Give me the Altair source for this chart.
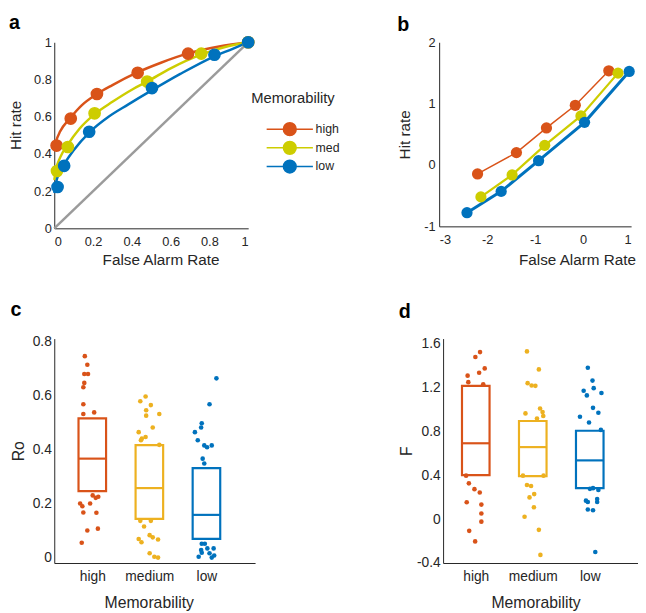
import altair as alt
import pandas as pd

FONT = "Liberation Sans"
INK = "#262626"

# ---------------- Panel a: ROC ----------------
roc_levels = ["high", "med", "low"]
roc_colors = ["#D95319", "#CDCD00", "#0072BD"]

a_high_fa = [0.012, 0.085, 0.22, 0.43, 0.69, 1.0]
a_high_hit = [0.445, 0.59, 0.722, 0.836, 0.939, 1.0]
a_med_fa = [0.014, 0.07, 0.208, 0.479, 0.758, 1.0]
a_med_hit = [0.308, 0.437, 0.618, 0.789, 0.939, 1.0]
a_low_fa = [0.017, 0.051, 0.18, 0.504, 0.826, 1.0]
a_low_hit = [0.222, 0.336, 0.519, 0.754, 0.933, 1.0]

# fitted curves
a_high_fit_fa = [0.0, 0.01, 0.03, 0.08, 0.14, 0.22, 0.3, 0.42, 0.55, 0.69, 0.85, 1.0]
a_high_fit_hit = [0.43, 0.47, 0.52, 0.59, 0.66, 0.722, 0.77, 0.834, 0.89, 0.94, 0.977, 1.0]
a_med_fit_fa = [0.0, 0.01, 0.03, 0.07, 0.13, 0.21, 0.3, 0.4, 0.48, 0.6, 0.76, 0.9, 1.0]
a_med_fit_hit = [0.26, 0.32, 0.38, 0.45, 0.535, 0.615, 0.68, 0.745, 0.789, 0.86, 0.935, 0.98, 1.0]
a_low_fit_fa = [0.0, 0.01, 0.03, 0.06, 0.1, 0.18, 0.28, 0.38, 0.5, 0.65, 0.82, 0.92, 1.0]
a_low_fit_hit = [0.19, 0.25, 0.305, 0.36, 0.42, 0.515, 0.6, 0.665, 0.74, 0.83, 0.922, 0.965, 1.0]

chance_x = [0.0, 1.0]
chance_y = [0.0, 1.0]
a_ticks = [0, 0.2, 0.4, 0.6, 0.8, 1]

# ---------------- Panel b: z-ROC ----------------
b_high_x = [-2.2, -1.39, -0.764, -0.163, 0.535]
b_high_y = [-0.146, 0.202, 0.604, 0.973, 1.535]
b_med_x = [-2.13, -1.48, -0.80, -0.046, 0.727]
b_med_y = [-0.52, -0.162, 0.32, 0.80, 1.497]
b_low_x = [-2.42, -1.708, -0.928, 0.03, 0.96]
b_low_y = [-0.777, -0.43, 0.07, 0.695, 1.524]
b_xticks = [-3, -2, -1, 0, 1]
b_yticks = [-1, 0, 1, 2]

# ---------------- Panels c, d ----------------
cd_levels = ["high", "medium", "low"]
cd_colors = ["#D95319", "#EDB120", "#0072BD"]

c_high_dx = [-0.131, -0.087, -0.14, -0.075, -0.14, -0.157, -0.157, -0.157, 0.033, 0.007,
             0.06, 0.105, -0.213, -0.174, -0.038, -0.157, 0.072, -0.087, 0.098, -0.185]
c_high_y = [0.745, 0.713, 0.679, 0.679, 0.646, 0.630, 0.567, 0.531, 0.537, 0.230,
            0.221, 0.225, 0.2, 0.19, 0.2, 0.167, 0.166, 0.1, 0.107, 0.055]
c_med_dx = [-0.066, -0.159, 0.026, -0.056, 0.174, -0.056, 0.059, -0.187, -0.066, -0.131,
            -0.148, 0.174, -0.159, 0.026, -0.093, -0.187, -0.138, 0.005, 0.059, 0.152,
            0.005, 0.087, 0.152]
c_med_y = [0.596, 0.578, 0.564, 0.545, 0.531, 0.525, 0.481, 0.464, 0.446, 0.44,
           0.434, 0.417, 0.136, 0.136, 0.115, 0.069, 0.057, 0.083, 0.075, 0.067,
           0.016, 0.003, 0.0]
c_low_dx = [0.175, 0.054, -0.082, -0.093, -0.202, -0.152, -0.038, 0.011, 0.093, -0.066,
            -0.038, -0.082, -0.028, -0.093, 0.016, 0.126, -0.082, 0.054, 0.136, -0.136, 0.093]
c_low_y = [0.663, 0.567, 0.497, 0.481, 0.464, 0.434, 0.415, 0.408, 0.415, 0.366,
           0.348, 0.051, 0.051, 0.028, 0.034, 0.034, 0.018, 0.016, 0.008, 0.003, 0.0]
c_q1 = [0.246, 0.143, 0.069]
c_med = [0.366, 0.257, 0.158]
c_q3 = [0.515, 0.416, 0.331]
c_yticks = [0, 0.2, 0.4, 0.6, 0.8]

d_high_dx = [0.075, -0.007, 0.157, 0.059, -0.143, -0.131, 0.131, -0.170, -0.121, -0.023,
             0.070, -0.159, 0.098, 0.098, 0.098, -0.115, -0.011]
d_high_y = [1.522, 1.477, 1.373, 1.334, 1.307, 1.248, 1.229, 0.396, 0.326, 0.273,
            0.243, 0.153, 0.132, 0.051, -0.023, -0.107, -0.203]
d_med_dx = [-0.102, 0.107, -0.09, -0.02, 0.046, 0.128, -0.128, 0.172, 0.184, 0.074,
            -0.172, 0.189, -0.102, -0.03, 0.025, -0.057, 0.02, -0.144, 0.107, 0.134]
d_med_y = [1.528, 1.364, 1.239, 1.217, 1.214, 1.008, 0.963, 0.975, 0.939, 0.916,
           0.396, 0.396, 0.311, 0.302, 0.228, 0.198, 0.108, 0.021, -0.098, -0.326]
d_low_dx = [-0.034, 0.048, -0.107, 0.069, -0.051, 0.205, 0.057, 0.151, -0.172, -0.013,
            0.195, 0.003, 0.057, 0.151, -0.067, -0.034, 0.13, 0.13, -0.034, 0.057, 0.097]
d_low_y = [1.379, 1.262, 1.169, 1.193, 1.127, 1.149, 1.014, 0.969, 0.933, 0.880,
           0.813, 0.276, 0.282, 0.266, 0.168, 0.156, 0.183, 0.156, 0.087, 0.081, -0.30]
d_q1 = [0.401, 0.392, 0.282]
d_med = [0.691, 0.656, 0.535]
d_q3 = [1.214, 0.894, 0.805]
d_yticks = [-0.4, 0, 0.4, 0.8, 1.2, 1.6]


def long_df(levels, xs_list, ys_list):
    rows = []
    for lvl, xs, ys in zip(levels, xs_list, ys_list):
        for i, (x, y) in enumerate(zip(xs, ys)):
            rows.append({"level": lvl, "x": x, "y": y, "order": i})
    return pd.DataFrame(rows)


LABEL_EXPR_NUM = "'' + datum.value"


def panel_title(letter, off):
    return alt.TitleParams(letter, anchor="start", frame="bounds", fontSize=20,
                           fontWeight="bold", baseline="alphabetic", offset=off,
                           color="black", font=FONT)


# legend glyph: a short line with a filled circle (cubic-bezier circle, tight bounds)
R, K, L = 1.3, 0.718, 4.7
leg_path = (f"M{-L},0L{L},0"
            f"M{R},0C{R},{K},{K},{R},0,{R}C{-K},{R},{-R},{K},{-R},0"
            f"C{-R},{-K},{-K},{-R},0,{-R}C{K},{-R},{R},{-K},{R},0Z")

# ---------- Panel a chart ----------
a_pts = long_df(roc_levels, [a_high_fa, a_med_fa, a_low_fa], [a_high_hit, a_med_hit, a_low_hit])
a_fit = long_df(roc_levels, [a_high_fit_fa, a_med_fit_fa, a_low_fit_fa],
                [a_high_fit_hit, a_med_fit_hit, a_low_fit_hit])
a_diag = pd.DataFrame({"x": chance_x, "y": chance_y})

ax_a_x = alt.Axis(values=a_ticks, labelExpr=LABEL_EXPR_NUM, title="False Alarm Rate",
                  labelFontSize=13, titleFontSize=15.5, labelPadding=7, titlePadding=5, titleX=108)
ax_a_y = alt.Axis(values=a_ticks, labelExpr=LABEL_EXPR_NUM, title="Hit rate",
                  labelFontSize=13, titleFontSize=15.5, labelPadding=3, titlePadding=10, titleY=84)
xa = alt.X("x:Q", scale=alt.Scale(domain=[0, 1], nice=False), axis=ax_a_x)
ya = alt.Y("y:Q", scale=alt.Scale(domain=[0, 1], nice=False), axis=ax_a_y)

scale_a = alt.Scale(domain=roc_levels, range=roc_colors)
legend_a = alt.Legend(orient="none", legendX=200, legendY=50, title="Memorability",
                      titleFontSize=15, titleFontWeight="normal", titleColor=INK, titleFont=FONT,
                      labelFontSize=12.5, labelColor=INK, labelFont=FONT,
                      symbolType=leg_path, symbolSize=100, symbolStrokeWidth=1.5,
                      symbolOffset=33, labelOffset=20, rowPadding=-1, titlePadding=17)

diag = alt.Chart(a_diag).mark_line(color="#9B9B9B", strokeWidth=2.5).encode(x=xa, y=ya)
fit = alt.Chart(a_fit).mark_line(strokeWidth=2.5, interpolate="monotone").encode(
    x=xa, y=ya, order="order:Q",
    stroke=alt.Stroke("level:N", scale=scale_a, legend=legend_a))
pts_a = alt.Chart(a_pts).mark_circle(size=130, opacity=1, strokeWidth=1.5).encode(
    x=xa, y=ya,
    fill=alt.Fill("level:N", scale=scale_a, legend=legend_a),
    stroke=alt.Stroke("level:N", scale=scale_a, legend=legend_a))
panel_a = alt.layer(diag, fit, pts_a).properties(
    width=197, height=189, title=panel_title("a", -15))

# ---------- Panel b chart ----------
b_df = long_df(roc_levels, [b_high_x, b_med_x, b_low_x], [b_high_y, b_med_y, b_low_y])
ax_b_x = alt.Axis(values=b_xticks, labelExpr=LABEL_EXPR_NUM, title="False Alarm Rate",
                  labelFontSize=13, titleFontSize=15.5, labelPadding=7, titlePadding=7, titleX=140)
ax_b_y = alt.Axis(values=b_yticks, labelExpr=LABEL_EXPR_NUM, title="Hit rate",
                  labelFontSize=13, titleFontSize=15.5, labelPadding=4, titlePadding=12)
xb = alt.X("x:Q", scale=alt.Scale(domain=[-3, 1], nice=False), axis=ax_b_x)
yb = alt.Y("y:Q", scale=alt.Scale(domain=[-1, 2], nice=False), axis=ax_b_y)
col_b = alt.Color("level:N", scale=alt.Scale(domain=roc_levels, range=roc_colors), legend=None)
lines_b = alt.Chart(b_df).mark_line().encode(
    x=xb, y=yb, order="order:Q", color=col_b,
    strokeWidth=alt.StrokeWidth("level:N", scale=alt.Scale(domain=roc_levels, range=[1.5, 3, 3]),
                                legend=None))
pts_b = alt.Chart(b_df).mark_circle(size=130, opacity=1).encode(x=xb, y=yb, color=col_b)
panel_b = alt.layer(lines_b, pts_b).properties(
    width=195, height=187, title=panel_title("b", -15))


# ---------- Panels c, d ----------
def box_panel(letter, ytitle, dx_lists, y_lists, q1, med, q3, yticks, ydomain, xdomain,
              w, h, toff, ytitle_pad, xtitle_x):
    pts = []
    for k, (lvl, dxs, ys) in enumerate(zip(cd_levels, dx_lists, y_lists)):
        for dx, y in zip(dxs, ys):
            pts.append({"level": lvl, "x": k + 1 + dx, "y": y})
    pts = pd.DataFrame(pts)
    box = pd.DataFrame({"level": cd_levels, "x": [1, 2, 3], "q1": q1, "med": med, "q3": q3})
    xax = alt.Axis(values=[1, 2, 3],
                   labelExpr="['" + "','".join(cd_levels) + "'][datum.value - 1]",
                   title="Memorability", labelFontSize=14, titleFontSize=16,
                   labelPadding=7, titlePadding=11, titleX=xtitle_x)
    yax = alt.Axis(values=yticks, labelExpr=LABEL_EXPR_NUM, title=ytitle,
                   labelFontSize=14, titleFontSize=16, labelPadding=3, titlePadding=ytitle_pad)
    x = alt.X("x:Q", scale=alt.Scale(domain=xdomain, nice=False), axis=xax)
    col = alt.Color("level:N", scale=alt.Scale(domain=cd_levels, range=cd_colors), legend=None)
    yscale = alt.Scale(domain=ydomain, nice=False)
    dots = alt.Chart(pts).mark_circle(size=22, opacity=1).encode(
        x=x, y=alt.Y("y:Q", scale=yscale, axis=yax), color=col)
    boxes = alt.Chart(box).mark_bar(filled=False, width=28, strokeWidth=2.2, opacity=1).encode(
        x=x, y=alt.Y("q1:Q", scale=yscale, axis=yax), y2="q3:Q", color=col)
    meds = alt.Chart(box).mark_tick(orient="horizontal", size=28, thickness=2.2,
                                    opacity=1).encode(
        x=x, y=alt.Y("med:Q", scale=yscale, axis=yax), color=col)
    return alt.layer(dots, boxes, meds).properties(
        width=w, height=h, title=panel_title(letter, toff))


panel_c = box_panel("c", "Ro", [c_high_dx, c_med_dx, c_low_dx], [c_high_y, c_med_y, c_low_y],
                    c_q1, c_med, c_q3, c_yticks, [-0.02, 0.81], [0.42, 3.766], 204, 228, -1, 6,
                    96)
panel_d = box_panel("d", "F", [d_high_dx, d_med_dx, d_low_dx], [d_high_y, d_med_y, d_low_y],
                    d_q1, d_med, d_q3, d_yticks, [-0.4, 1.645], [0.513, 3.76], 198, 228, -1, 2,
                    94)

res = dict(color="independent", fill="independent", stroke="independent",
           strokeWidth="independent")
row1 = alt.hconcat(panel_a, panel_b, spacing=58).resolve_scale(**res)
row2 = alt.hconcat(panel_c, panel_d, spacing=145).resolve_scale(**res)

chart = alt.vconcat(row1, row2, spacing=31).resolve_scale(**res).properties(
    padding={"left": 0, "top": 0, "right": 0, "bottom": 0}
).configure(font=FONT).configure_view(stroke=None).configure_axis(
    domainColor=INK, domainWidth=1, labelColor=INK, titleColor=INK, ticks=False, grid=False,
    titleFontWeight="normal", labelFont=FONT, titleFont=FONT
)

chart.save("out.html", embed_options={"renderer": "svg", "actions": False})
